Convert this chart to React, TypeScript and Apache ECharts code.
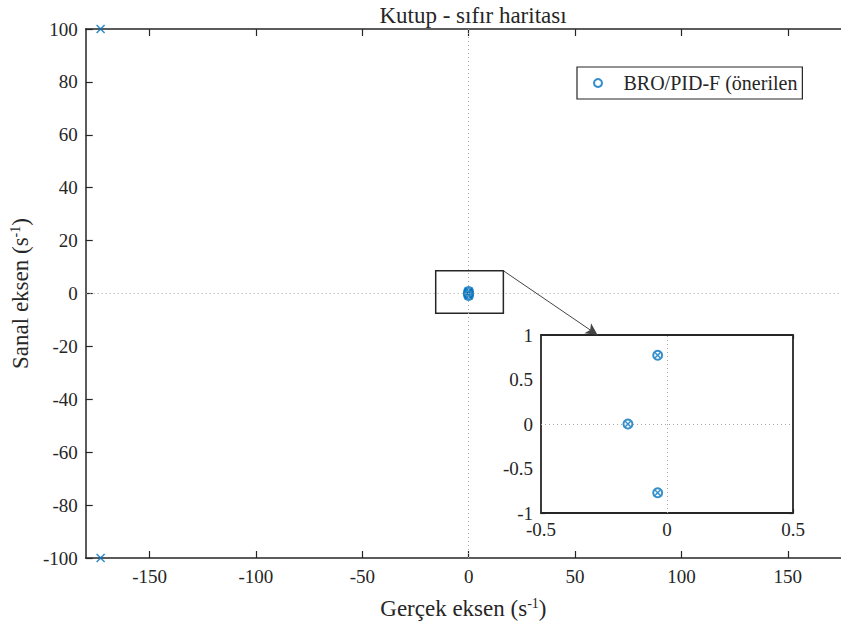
import React, { useEffect, useRef } from "react";
import * as echarts from "echarts";

// ---- data ----
const seriesName = "BRO/PID-F (önerilen";
// zeros (o) near origin
const zeroRe = [-0.037, -0.037, -0.155];
const zeroIm = [0.773, -0.773, 0];
// poles (x)
const poleRe = [-0.037, -0.037, -0.155, -173, -173];
const poleIm = [0.773, -0.773, 0, 100, -100];

const mainXTicks = [-150, -100, -50, 0, 50, 100, 150];
const mainYTicks = [-100, -80, -60, -40, -20, 0, 20, 40, 60, 80, 100];
const insetXTicks = [-0.5, 0, 0.5];
const insetYTicks = [-1, -0.5, 0, 0.5, 1];

// zoom box (data units of main axes) and arrow end
const zoomBoxFrom = [-15.5, 8.6];
const zoomBoxTo = [16.3, -7.5];
const arrowEnd = [60.6, -15.7];

const BLUE = "#0072BD";
const INK = "#262626";
const FONT = "Liberation Serif";
const X_MARK = "path://M0,0L10,10M10,0L0,10";

export default function App() {
  const ref = useRef<HTMLDivElement>(null);
  useEffect(() => {
    const chart = echarts.init(ref.current!, null, { renderer: "svg" });
    const zeros = zeroRe.map((x, i) => [x, zeroIm[i]]);
    const poles = poleRe.map((x, i) => [x, poleIm[i]]);

    const tickLabel = { color: INK, fontFamily: FONT, fontSize: 19 };
    const mainLine = { show: true, onZero: false, lineStyle: { color: INK, width: 1.5 } };
    const noLine = { show: false, onZero: false };
    const nameStyle = {
      color: INK, fontFamily: FONT, fontSize: 23,
      rich: { sup: { fontFamily: FONT, fontSize: 14, color: INK, padding: [0, 0, 11, 0] } },
    };

    const option: any = {
      animation: false,
      backgroundColor: "#fff",
      title: {
        text: "Kutup - sıfır haritası",
        left: 468,
        textAlign: "center",
        top: -1,
        textStyle: { color: INK, fontFamily: FONT, fontSize: 23, fontWeight: "normal" },
      },
      legend: {
        data: [{ name: seriesName, icon: "emptyCircle" }],
        left: 577,
        top: 67,
        padding: [6, 5, 6, 16],
        itemWidth: 41,
        itemHeight: 8,
        itemGap: 0,
        borderColor: INK,
        borderWidth: 1.2,
        backgroundColor: "#fff",
        textStyle: { color: INK, fontFamily: FONT, fontSize: 20 },
      },
      grid: [
        {
          left: 84, top: 29, right: 0, height: 529,
          show: false,
        },
        {
          left: 541, top: 335, width: 252, height: 178,
          show: true, borderColor: INK, borderWidth: 1.8, backgroundColor: "#fff", z: 5,
        },
      ],
      xAxis: [
        {
          gridIndex: 0, type: "value", min: -180, max: 175,
          position: "bottom",
          axisLine: mainLine,
          axisTick: { inside: true, length: 7, lineStyle: { color: INK, width: 1.2 }, customValues: mainXTicks },
          axisLabel: { ...tickLabel, margin: 9, customValues: mainXTicks },
          splitLine: { show: false },
          name: "Gerçek eksen (s{sup|-1})",
          nameLocation: "middle",
          nameGap: 38,
          nameTextStyle: nameStyle,
        },
        {
          gridIndex: 0, type: "value", min: -180, max: 175,
          position: "top",
          axisLine: mainLine,
          axisTick: { inside: true, length: 7, lineStyle: { color: INK, width: 1.2 }, customValues: mainXTicks },
          axisLabel: { show: false },
          splitLine: { show: false },
        },
        {
          gridIndex: 1, type: "value", min: -0.5, max: 0.5, interval: 0.5,
          position: "bottom",
          axisLine: noLine,
          axisTick: { inside: true, length: 4, lineStyle: { color: INK, width: 1.2 }, customValues: insetXTicks },
          axisLabel: { ...tickLabel, margin: 7, customValues: insetXTicks },
          splitLine: { show: false },
        },
        {
          gridIndex: 1, type: "value", min: -0.5, max: 0.5, interval: 0.5,
          position: "top",
          axisLine: noLine,
          axisTick: { inside: true, length: 4, lineStyle: { color: INK, width: 1.2 }, customValues: insetXTicks },
          axisLabel: { show: false },
          splitLine: { show: false },
        },
      ],
      yAxis: [
        {
          gridIndex: 0, type: "value", min: -100, max: 100, interval: 20,
          position: "left",
          axisLine: mainLine,
          axisTick: { inside: true, length: 7, lineStyle: { color: INK, width: 1.2 }, customValues: mainYTicks },
          axisLabel: { ...tickLabel, margin: 8, customValues: mainYTicks },
          splitLine: { show: false },
          name: "Sanal eksen (s{sup|-1})",
          nameLocation: "middle",
          nameGap: 43,
          nameTextStyle: nameStyle,
        },
        {
          gridIndex: 1, type: "value", min: -1, max: 1, interval: 0.5,
          position: "left",
          axisLine: noLine,
          axisTick: { inside: true, length: 4, lineStyle: { color: INK, width: 1.2 }, customValues: insetYTicks },
          axisLabel: { ...tickLabel, margin: 8, customValues: insetYTicks },
          splitLine: { show: false },
        },
        {
          gridIndex: 1, type: "value", min: -1, max: 1, interval: 0.5,
          position: "right",
          axisLine: noLine,
          axisTick: { inside: true, length: 4, lineStyle: { color: INK, width: 1.2 }, customValues: insetYTicks },
          axisLabel: { show: false },
          splitLine: { show: false },
        },
      ],
      series: [
        {
          name: seriesName,
          type: "scatter",
          xAxisIndex: 0, yAxisIndex: 0,
          data: zeros,
          symbol: "emptyCircle",
          symbolSize: 9,
          itemStyle: { color: BLUE, borderColor: BLUE, borderWidth: 2.2 },
          markLine: {
            silent: true, symbol: "none", label: { show: false },
            lineStyle: { color: "#a8a8a8", type: [1, 3], width: 1 },
            data: [{ xAxis: 0 }, { yAxis: 0 }],
          },
          markArea: {
            silent: true,
            itemStyle: { color: "rgba(0,0,0,0)", borderColor: INK, borderWidth: 1.5 },
            data: [[{ coord: zoomBoxFrom }, { coord: zoomBoxTo }]],
          },
          z: 3,
        },
        {
          name: "poles",
          type: "scatter",
          xAxisIndex: 0, yAxisIndex: 0,
          data: poles,
          symbol: X_MARK,
          symbolSize: 8,
          itemStyle: { color: "none", borderColor: BLUE, borderWidth: 1.6 },
          markLine: {
            silent: true, label: { show: false },
            symbol: ["none", "arrow"], symbolSize: [9, 12],
            lineStyle: { color: "#444", type: "solid", width: 1 },
            data: [[{ coord: [zoomBoxTo[0], zoomBoxFrom[1]] }, { coord: arrowEnd }]],
          },
          z: 3,
        },
        {
          name: "inset zeros",
          type: "scatter",
          xAxisIndex: 2, yAxisIndex: 1,
          data: zeros,
          symbol: "emptyCircle",
          symbolSize: 9,
          itemStyle: { color: BLUE, borderColor: BLUE, borderWidth: 2 },
          markLine: {
            silent: true, symbol: "none", label: { show: false },
            lineStyle: { color: "#a8a8a8", type: [1, 3], width: 1 },
            data: [{ xAxis: 0 }, { yAxis: 0 }],
          },
          z: 10,
        },
        {
          name: "inset poles",
          type: "scatter",
          xAxisIndex: 2, yAxisIndex: 1,
          data: poles.filter((p) => Math.abs(p[0]) <= 0.5),
          symbol: X_MARK,
          symbolSize: 5,
          itemStyle: { color: "none", borderColor: BLUE, borderWidth: 1.5 },
          z: 11,
        },
      ],
    };
    chart.setOption(option);
    return () => chart.dispose();
  }, []);
  return (
    <div
      ref={ref}
      style={{ position: "fixed", left: 0, top: 0, width: 841, height: 628 }}
    />
  );
}
